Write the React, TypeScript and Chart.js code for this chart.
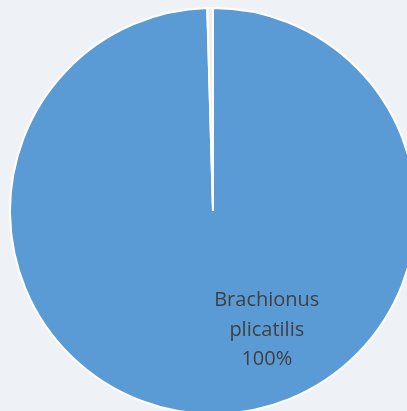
import React, { useEffect, useRef } from "react";
import { Chart, registerables } from "chart.js";

Chart.register(...registerables);

const categories = ["Brachionus plicatilis", "Other"];
const values = [99.55, 0.45];
const sliceColors = ["#5b9bd5", "#f1ede8"];
const labelLines = ["Brachionus", "plicatilis", "100%"];

const labelPlugin = {
  id: "sliceLabel",
  afterDatasetsDraw(chart: any) {
    const meta = chart.getDatasetMeta(0);
    const arc = meta.data[0];
    if (!arc) return;
    const { x, y, outerRadius } = arc.getProps(["x", "y", "outerRadius"], true);
    const ctx = chart.ctx;
    ctx.save();
    ctx.fillStyle = "#404040";
    ctx.font = '20px "Open Sans", sans-serif';
    ctx.textAlign = "center";
    ctx.textBaseline = "alphabetic";
    const cx = x + outerRadius * 0.265;
    const baseY = y + outerRadius * 0.615;
    const lh = 29.5;
    labelLines.forEach((t, i) => {
      ctx.fillText(t, cx, baseY + (i - 1) * lh);
    });
    ctx.restore();
  },
};

export default function App() {
  const ref = useRef<HTMLCanvasElement | null>(null);
  useEffect(() => {
    if (!ref.current) return;
    const chart = new Chart(ref.current, {
      type: "pie",
      data: {
        labels: categories,
        datasets: [
          {
            data: values,
            backgroundColor: sliceColors,
            borderColor: "#ffffff",
            borderWidth: 2,
          },
        ],
      },
      options: {
        animation: false,
        responsive: true,
        maintainAspectRatio: false,
        layout: { padding: 0 },
        plugins: {
          legend: { display: false },
          tooltip: { enabled: false },
        },
      },
      plugins: [labelPlugin],
    });
    return () => chart.destroy();
  }, []);

  return (
    <div
      style={{
        position: "fixed",
        left: 0,
        top: 0,
        width: "100vw",
        height: "100vh",
        background: "#eef2f7",
        overflow: "hidden",
      }}
    >
      <div
        style={{
          position: "absolute",
          left: 9,
          top: 7,
          width: 408,
          height: 408,
        }}
      >
        <canvas ref={ref} />
      </div>
    </div>
  );
}
